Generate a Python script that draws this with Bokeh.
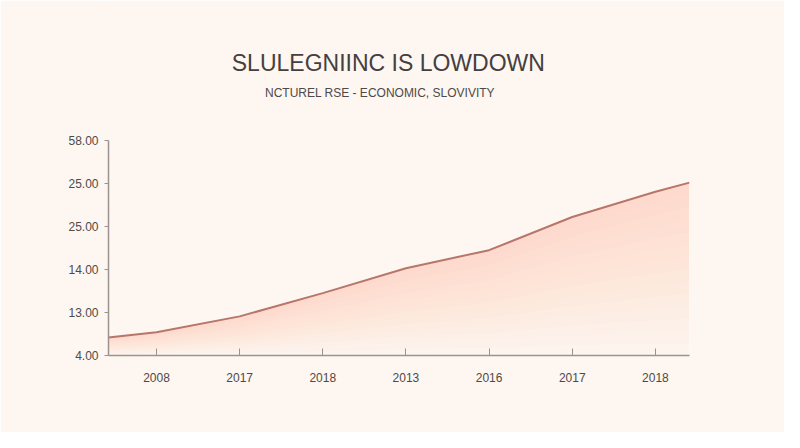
from bokeh.plotting import figure
from bokeh.models import Range1d, FixedTicker, Label
from bokeh.embed import file_html
from bokeh.resources import INLINE

# ---- data ----
title_text = "SLULEGNIINC IS LOWDOWN"
subtitle_text = "NCTUREL RSE  -  ECONOMIC, SLOVIVITY"
x_tick_labels = ["2008", "2017", "2018", "2013", "2016", "2017", "2018"]
y_tick_labels = ["4.00", "13.00", "14.00", "25.00", "25.00", "58.00"]
# x index (category positions incl. the two plot edges) and series values (in axis-tick units)
x_index = [-0.58, 0, 1, 2, 3, 4, 5, 6, 6.41]
values = [0.42, 0.54, 0.91, 1.45, 2.03, 2.45, 3.22, 3.81, 4.02]

BG = "#fdf6f1"
AXIS = "#9a9390"
TXT = "#4e4a48"

# frame spans from near the top of the canvas so the titles sit inside it;
# the y axis itself is bounded to the tick range
Y_TOP = 345 * 5 / 215
p = figure(width=784, height=432, output_backend="svg", toolbar_location=None,
           x_range=Range1d(-0.577, 6.41), y_range=Range1d(0, Y_TOP),
           min_border_left=108, min_border_right=95, min_border_top=10, min_border_bottom=77)
p.background_fill_color = BG
p.border_fill_color = BG
p.outline_line_color = None
p.xgrid.visible = False
p.ygrid.visible = False

# gradient-like area fill
N = 14
for k in range(1, N + 1):
    lower = [v * (1 - k / N) for v in values]
    p.varea(x=x_index, y1=lower, y2=values, fill_color="#f0a68c", fill_alpha=0.027)

p.line(x_index, values, line_color="#b8766a", line_width=2)

# axes
p.xaxis.ticker = FixedTicker(ticks=list(range(len(x_tick_labels))))
p.xaxis.major_label_overrides = {i: t for i, t in enumerate(x_tick_labels)}
p.yaxis.ticker = FixedTicker(ticks=list(range(len(y_tick_labels))))
p.yaxis.major_label_overrides = {i: t for i, t in enumerate(y_tick_labels)}
p.yaxis.bounds = (0, len(y_tick_labels) - 1)
for ax in (p.xaxis[0], p.yaxis[0]):
    ax.axis_line_color = AXIS
    ax.axis_line_width = 1.5
    ax.major_tick_line_color = AXIS
    ax.minor_tick_line_color = None
    ax.major_label_text_color = TXT
    ax.major_label_text_font = "Liberation Sans"
    ax.major_label_text_font_size = "12px"
p.xaxis.major_tick_in = 7
p.xaxis.major_tick_out = 0
p.xaxis.major_label_standoff = 17
p.yaxis.major_tick_in = 0
p.yaxis.major_tick_out = 4
p.yaxis.major_label_standoff = 6

# titles
p.add_layout(Label(x=2.788, y=6.791, text=title_text,
                   text_align="center", text_baseline="middle", text_font="Liberation Sans",
                   text_font_size="23px", text_color="#444040"))
p.add_layout(Label(x=2.728, y=6.116, text=subtitle_text,
                   text_align="center", text_baseline="middle", text_font="Liberation Sans",
                   text_font_size="12px", text_color="#4e4a48"))

open("out.html", "w").write(file_html(p, INLINE))
